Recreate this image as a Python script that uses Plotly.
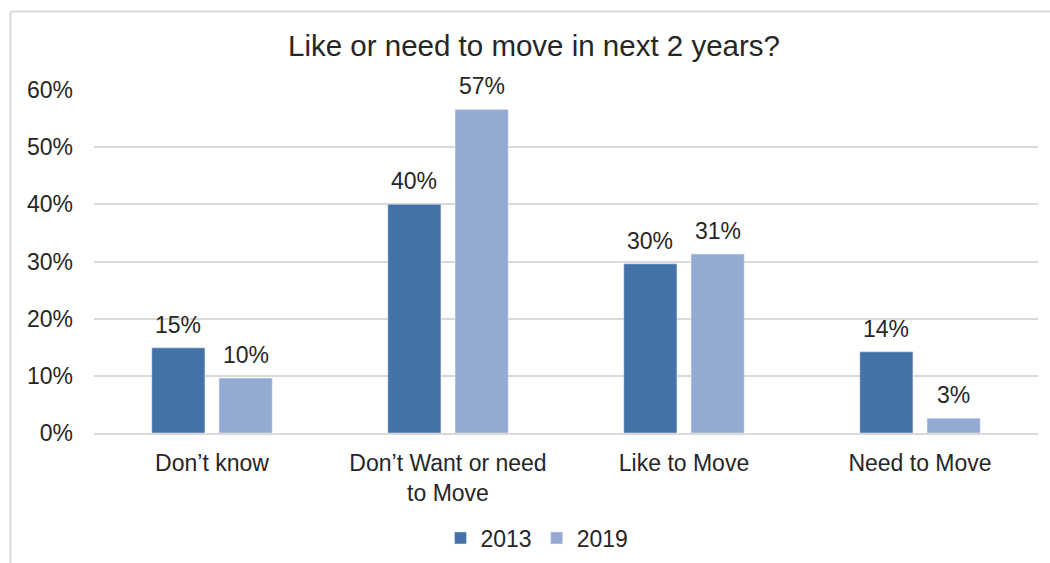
import plotly.graph_objects as go

categories = ["Don’t know", "Don’t Want or need<br>to Move", "Like to Move", "Need to Move"]
values_2013 = [0.149, 0.400, 0.296, 0.142]
values_2019 = [0.096, 0.566, 0.313, 0.026]
labels_2013 = ["15%", "40%", "30%", "14%"]
labels_2019 = ["10%", "57%", "31%", "3%"]

W, H = 1050, 563
L, R, T, B = 94, 12, 90, 130
pw = W - L - R
ph = H - T - B

font_family = "Liberation Sans, Arial, sans-serif"
txt_color = "#262626"
fs = 23
bargap, bargroupgap = 0.43, 0.21

fig = go.Figure()
fig.add_trace(go.Bar(name="2013", x=categories, y=values_2013, marker=dict(color="#4472A8")))
fig.add_trace(go.Bar(name="2019", x=categories, y=values_2019, marker=dict(color="#94AAD2")))

# data labels placed above each bar (offset by half a group slot)
slot_px = pw / len(categories) * (1 - bargap) / 2
annotations = []
for cat, v, t in zip(categories, values_2013, labels_2013):
    annotations.append(dict(x=cat, y=v, text=t, xref="x", yref="y", showarrow=False,
                            xshift=-slot_px / 2, yanchor="bottom", yshift=8,
                            font=dict(size=fs, color=txt_color)))
for cat, v, t in zip(categories, values_2019, labels_2019):
    annotations.append(dict(x=cat, y=v, text=t, xref="x", yref="y", showarrow=False,
                            xshift=slot_px / 2, yanchor="bottom", yshift=8,
                            font=dict(size=fs, color=txt_color)))

def px_x(p):
    return (p - L) / pw

def px_y(p):
    return (H - B - p) / ph

fig.update_layout(
    width=W, height=H,
    margin=dict(l=L, r=R, t=T, b=B),
    paper_bgcolor="white", plot_bgcolor="white",
    font=dict(family=font_family, size=fs, color=txt_color),
    title=dict(text="Like or need to move in next 2 years?", x=534 / W, xanchor="center",
               y=1 - 46 / H, yanchor="middle", font=dict(size=29.5, color=txt_color)),
    barmode="group", bargap=bargap, bargroupgap=bargroupgap,
    showlegend=True,
    legend=dict(orientation="h", xref="container", yref="container", x=537 / W, xanchor="center",
                y=1 - 538 / H, yanchor="middle", font=dict(size=fs, color=txt_color),
                traceorder="normal", itemwidth=30),
    xaxis=dict(showgrid=False, showline=True, linecolor="#d9d9d9", linewidth=1.5,
               tickfont=dict(size=fs, color=txt_color), ticks="", ticklabelstandoff=9,
               automargin=False),
    yaxis=dict(range=[0, 0.6], dtick=0.1, tickformat=".0%", showgrid=True,
               gridcolor="#d9d9d9", gridwidth=1.5, zeroline=False, showline=False,
               tickfont=dict(size=fs, color=txt_color), ticklabelstandoff=20,
               automargin=False),
    annotations=annotations,
    shapes=[
        dict(type="line", xref="paper", yref="paper", x0=px_x(10.5), x1=px_x(1060),
             y0=px_y(11.5), y1=px_y(11.5), line=dict(color="#d9d9d9", width=2)),
        dict(type="line", xref="paper", yref="paper", x0=px_x(10.5), x1=px_x(10.5),
             y0=px_y(11.5), y1=px_y(580), line=dict(color="#d9d9d9", width=2)),
    ],
)

fig.write_html("out.html")
